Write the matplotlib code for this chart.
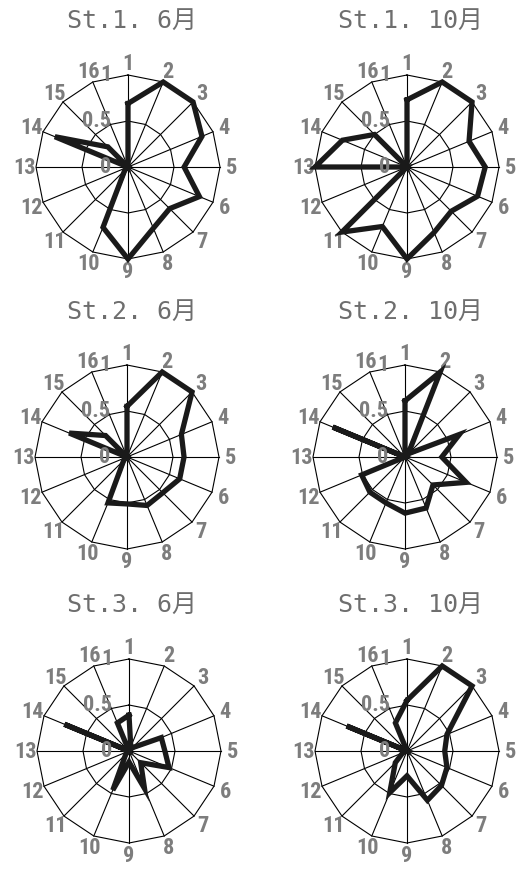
import matplotlib

matplotlib.use("Agg")
import matplotlib.pyplot as plt
from matplotlib import font_manager
import numpy as np

# 16 directions, clockwise from the top
directions = [str(i) for i in range(1, 17)]
ring_levels = [0.5, 1.0]
ring_labels = ["0", "0.5", "1"]
ring_label_pos = [0.0, 0.5, 1.0]

titles = ["St.1. 6月", "St.1. 10月", "St.2. 6月", "St.2. 10月", "St.3. 6月", "St.3. 10月"]

st1_jun = [0.69, 1.0, 1.0, 0.87, 0.61, 0.84, 0.64, 0.72, 1.0, 0.71, 0.05, 0.0, 0.0, 0.86, 0.31, 0.0]
st1_oct = [0.73, 1.0, 1.0, 0.73, 0.85, 0.83, 0.68, 0.77, 1.0, 0.70, 1.0, 0.0, 1.0, 0.76, 0.50, 0.0]
st2_jun = [0.55, 1.0, 1.0, 0.64, 0.62, 0.62, 0.55, 0.57, 0.51, 0.54, 0.05, 0.0, 0.0, 0.68, 0.33, 0.0]
st2_oct = [0.61, 1.0, 0.05, 0.64, 0.40, 0.72, 0.43, 0.60, 0.61, 0.54, 0.54, 0.51, 0.0, 0.85, 0.0, 0.0]
st3_jun = [0.39, 0.05, 0.05, 0.38, 0.39, 0.47, 0.18, 0.44, 0.12, 0.46, 0.05, 0.0, 0.0, 0.76, 0.0, 0.33]
st3_oct = [0.55, 1.0, 1.0, 0.47, 0.41, 0.47, 0.53, 0.58, 0.27, 0.49, 0.18, 0.05, 0.0, 0.71, 0.0, 0.33]

series = [st1_jun, st1_oct, st2_jun, st2_oct, st3_jun, st3_oct]

W, H = 520, 870
R = 92  # chart radius in px
centers = [(128, 168), (407, 168), (127, 458), (405, 458), (129, 752), (407, 752)]
title_pos = [(132, 21), (410, 21), (132, 312), (410, 312), (132, 605), (410, 605)]

# narrow bold face for the direction labels, whichever is installed
installed = {f.name for f in font_manager.fontManager.ttflist}
narrow = next((n for n in ["Liberation Sans Narrow", "Roboto Condensed", "Roboto", "Liberation Sans"]
               if n in installed), "DejaVu Sans")

GRAY = "#7d7d7d"
LABEL_FONT = dict(family=[narrow, "DejaVu Sans"], fontweight="bold", fontsize=16, color=GRAY)

fig = plt.figure(figsize=(W / 100, H / 100), dpi=100)

theta = np.linspace(0, 2 * np.pi, len(directions), endpoint=False)
theta_closed = np.append(theta, theta[0])

for (cx, cy), (tx, ty), title, vals in zip(centers, title_pos, titles, series):
    ax = fig.add_axes([(cx - R) / W, (H - cy - R) / H, 2 * R / W, 2 * R / H],
                      projection="polar")
    ax.set_theta_zero_location("N")
    ax.set_theta_direction(-1)
    ax.set_ylim(0, 1)
    ax.axis("off")

    # polygon grid rings and spokes
    for lev in ring_levels:
        ax.plot(theta_closed, [lev] * len(theta_closed), color="black", lw=0.8, clip_on=False)
    for t in theta:
        ax.plot([t, t], [0, 1], color="black", lw=0.8, clip_on=False)

    v = np.append(vals, vals[0])
    ax.plot(theta_closed, v, color="#1a1a1a", lw=3.8, solid_joinstyle="miter",
            clip_on=False, zorder=5)

    for t, lab in zip(theta, directions):
        ax.text(t, 1.13, lab, ha="center", va="center", **LABEL_FONT)

    for r, lab in zip(ring_label_pos, ring_labels):
        ax.annotate(lab, xy=(0, r), xytext=(-12, 1), textcoords="offset points",
                    ha="right", va="center", zorder=6, **LABEL_FONT)

    fig.text(tx / W, 1 - ty / H, title, ha="center", va="center", fontsize=18,
             color="#6e6e6e", family=["DejaVu Sans Mono", "Noto Sans CJK JP"])

fig.savefig("out.png", dpi=100)
